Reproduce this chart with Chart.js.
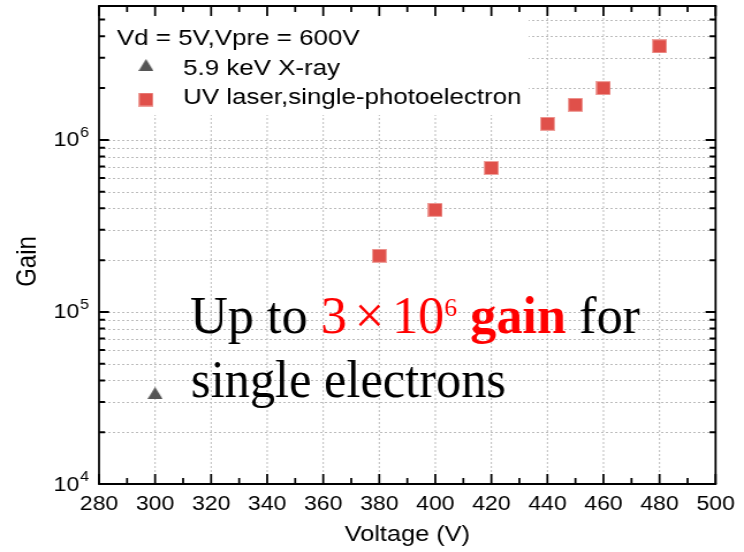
<!DOCTYPE html>
<html>
<head>
<meta charset="utf-8">
<script src="https://cdn.jsdelivr.net/npm/chart.js@4.4.1/dist/chart.umd.min.js"></script>
<style>
  html, body { margin: 0; padding: 0; background: #fff; }
</style>
</head>
<body>
<!-- drawn 646 wide and shown 744 wide, like the original wide figure -->
<canvas id="gainChart" width="646" height="552" style="display:block;width:744px;height:552px"></canvas>
<script>
// UV laser, single-photoelectron gain
const uvVoltage = [380, 400, 420, 440, 450, 460, 480];
const uvGain = [2.12e5, 3.92e5, 6.87e5, 1.24e6, 1.60e6, 2.00e6, 3.50e6];

// 5.9 keV X-ray gain
const xrayVoltage = [300];
const xrayGain = [3.38e4];

// axes
const voltageTicks = [280, 300, 320, 340, 360, 380, 400, 420, 440, 460, 480, 500];
const voltageMinorTicks = [290, 310, 330, 350, 370, 390, 410, 430, 450, 470, 490];
const gainDecades = [1e4, 1e5, 1e6];
const gainSteps = [1, 2, 3, 4, 5, 6, 7, 8, 9];
const gainMin = 1e4;
const gainMax = 6e6;

const STRETCH = 744 / 646;
const SANS = '"Liberation Sans", Arial, sans-serif';
const SERIF = '"Liberation Serif", "Times New Roman", serif';

const gainTicks = [];
gainDecades.forEach(d => gainSteps.forEach(s => {
  const v = d * s;
  if (v <= gainMax) gainTicks.push({ value: v, major: s === 1 });
}));

function squareMarker() {
  const c = document.createElement('canvas');
  c.width = 13; c.height = 14;
  const g = c.getContext('2d');
  g.fillStyle = '#efa19c';
  g.fillRect(0, 0, 13, 14);
  g.fillStyle = '#e0504a';
  g.fillRect(1, 1, 11, 12);
  return c;
}

function triangleMarker() {
  const c = document.createElement('canvas');
  c.width = 13; c.height = 12;
  const g = c.getContext('2d');
  g.fillStyle = '#555555';
  g.beginPath();
  g.moveTo(6.5, 0);
  g.lineTo(13, 12);
  g.lineTo(0, 12);
  g.closePath();
  g.fill();
  return c;
}

const square = squareMarker();
const triangle = triangleMarker();

// one line of mixed-style text, squeezed to a given width in screen pixels
function drawRun(ctx, parts, x0, baseline, width) {
  let total = 0;
  parts.forEach(p => { ctx.font = p.font; total += ctx.measureText(p.text).width + (p.gap || 0); });
  const k = width / total;
  ctx.save();
  ctx.scale(1 / STRETCH, 1);
  ctx.translate(x0, baseline);
  ctx.scale(k, 1);
  ctx.textBaseline = 'alphabetic';
  ctx.textAlign = 'left';
  let x = 0;
  parts.forEach(p => {
    ctx.font = p.font;
    ctx.fillStyle = p.color;
    ctx.fillText(p.text, x, p.dy || 0);
    x += ctx.measureText(p.text).width + (p.gap || 0);
  });
  ctx.restore();
}

const frame = {
  id: 'frame',
  beforeDatasetsDraw(chart) {
    const { ctx, chartArea: a, scales: { x, y } } = chart;
    ctx.save();
    // dotted grid
    ctx.strokeStyle = '#bcbcbc';
    ctx.lineWidth = 1;
    ctx.setLineDash([2, 2]);
    ctx.beginPath();
    y.ticks.forEach(t => {
      if (t.value <= y.min || t.value >= y.max) return;
      const py = Math.round(y.getPixelForValue(t.value)) + 0.5;
      ctx.moveTo(a.left, py);
      ctx.lineTo(a.right, py);
    });
    voltageTicks.forEach(v => {
      if (v <= x.min || v >= x.max) return;
      const px = x.getPixelForValue(v);
      ctx.moveTo(px, a.top);
      ctx.lineTo(px, a.bottom);
    });
    ctx.stroke();
    ctx.setLineDash([]);

    // legend
    ctx.fillStyle = '#fff';
    ctx.fillRect(a.left + 1, a.top + 1, 372, 108);
    ctx.fillStyle = '#000';
    ctx.font = '22.5px ' + SANS;
    ctx.textAlign = 'left';
    ctx.textBaseline = 'alphabetic';
    ctx.fillText('Vd = 5V,Vpre = 600V', 101.6, 45);
    ctx.drawImage(triangle, 126.8 - 6.5, 65 - 6, 13, 12);
    ctx.fillText('5.9 keV X-ray', 158.9, 75);
    ctx.drawImage(square, 126.8 - 6.5, 99.5 - 7, 13, 14);
    ctx.fillText('UV laser,single-photoelectron', 158.9, 104);
    ctx.restore();
  },
  afterDatasetsDraw(chart) {
    const ctx = chart.ctx;
    const big = '53px ' + SERIF;
    drawRun(ctx, [
      { text: 'Up to ', font: big, color: '#000' },
      { text: '3', font: big, color: '#ff0000', gap: 8 },
      { text: '×', font: big, color: '#ff0000', gap: 8 },
      { text: '10', font: big, color: '#ff0000' },
      { text: '6', font: '26px ' + SERIF, color: '#ff0000', dy: -17 },
      { text: ' gain', font: 'bold 53px ' + SERIF, color: '#ff0000' },
      { text: ' for', font: big, color: '#000' }
    ], 190, 333, 450);
    drawRun(ctx, [
      { text: 'single electrons', font: big, color: '#000' }
    ], 191, 397, 315);
  },
  afterDraw(chart) {
    const { ctx, chartArea: a, scales: { x, y } } = chart;
    ctx.save();
    ctx.strokeStyle = '#000';

    // inward voltage ticks, bottom and top
    ctx.lineWidth = 2 / STRETCH;
    ctx.beginPath();
    const xTick = (v, len) => {
      const px = x.getPixelForValue(v);
      ctx.moveTo(px, a.bottom); ctx.lineTo(px, a.bottom - len);
      ctx.moveTo(px, a.top); ctx.lineTo(px, a.top + len);
    };
    voltageTicks.forEach(v => xTick(v, 10));
    voltageMinorTicks.forEach(v => xTick(v, 6));
    ctx.stroke();

    // inward gain ticks, left and right
    ctx.lineWidth = 2;
    ctx.beginPath();
    y.ticks.forEach(t => {
      const py = y.getPixelForValue(t.value);
      const len = (t.major ? 10 : 6) / STRETCH;
      ctx.moveTo(a.left, py); ctx.lineTo(a.left + len, py);
      ctx.moveTo(a.right, py); ctx.lineTo(a.right - len, py);
    });
    ctx.stroke();

    // axis frame
    ctx.lineWidth = 2;
    ctx.beginPath();
    ctx.moveTo(a.left - 1 / STRETCH, a.top); ctx.lineTo(a.right + 1 / STRETCH, a.top);
    ctx.moveTo(a.left - 1 / STRETCH, a.bottom); ctx.lineTo(a.right + 1 / STRETCH, a.bottom);
    ctx.stroke();
    ctx.lineWidth = 2 / STRETCH;
    ctx.beginPath();
    ctx.moveTo(a.left, a.top); ctx.lineTo(a.left, a.bottom);
    ctx.moveTo(a.right, a.top); ctx.lineTo(a.right, a.bottom);
    ctx.stroke();

    // decade labels 10^n
    ctx.fillStyle = '#000';
    y.ticks.filter(t => t.major).forEach(t => {
      const py = y.getPixelForValue(t.value);
      ctx.font = '20px ' + SANS;
      ctx.textAlign = 'right';
      ctx.textBaseline = 'middle';
      ctx.fillText('10', 68.8, py + 1);
      ctx.font = '14px ' + SANS;
      ctx.textAlign = 'left';
      ctx.textBaseline = 'alphabetic';
      ctx.fillText(String(Math.round(Math.log10(t.value))), 69.6, py - 3);
    });

    // y title
    ctx.translate(24.3, 261.5);
    ctx.rotate(-Math.PI / 2);
    ctx.font = '24px ' + SANS;
    ctx.textAlign = 'center';
    ctx.textBaseline = 'middle';
    ctx.fillText('Gain', 0, 0);
    ctx.restore();
  }
};

new Chart(document.getElementById('gainChart'), {
  type: 'scatter',
  data: {
    datasets: [
      {
        label: '5.9 keV X-ray',
        data: xrayVoltage.map((v, i) => ({ x: v, y: xrayGain[i] })),
        pointStyle: triangle
      },
      {
        label: 'UV laser,single-photoelectron',
        data: uvVoltage.map((v, i) => ({ x: v, y: uvGain[i] })),
        pointStyle: square
      }
    ]
  },
  options: {
    responsive: false,
    animation: false,
    layout: { padding: { left: 0, top: 6, right: 646 - 719 / STRETCH, bottom: 0 } },
    plugins: {
      legend: { display: false },
      tooltip: { enabled: false }
    },
    scales: {
      x: {
        type: 'linear',
        min: 280,
        max: 500,
        afterBuildTicks: s => { s.ticks = voltageTicks.map(v => ({ value: v })); },
        afterFit: s => { s.height = 68; },
        grid: { display: false, drawTicks: false },
        border: { display: false },
        ticks: {
          color: '#000',
          padding: 8,
          maxRotation: 0,
          autoSkip: false,
          font: { family: SANS, size: 20 }
        },
        title: {
          display: true,
          text: 'Voltage (V)',
          color: '#000',
          padding: { top: 4, bottom: 4 },
          font: { family: SANS, size: 22 }
        }
      },
      y: {
        type: 'logarithmic',
        min: gainMin,
        max: gainMax,
        afterBuildTicks: s => { s.ticks = gainTicks.map(t => ({ ...t })); },
        afterFit: s => { s.width = 86; },
        grid: { display: false, drawTicks: false },
        border: { display: false },
        ticks: { display: false }
      }
    }
  },
  plugins: [frame]
});
</script>
</body>
</html>
